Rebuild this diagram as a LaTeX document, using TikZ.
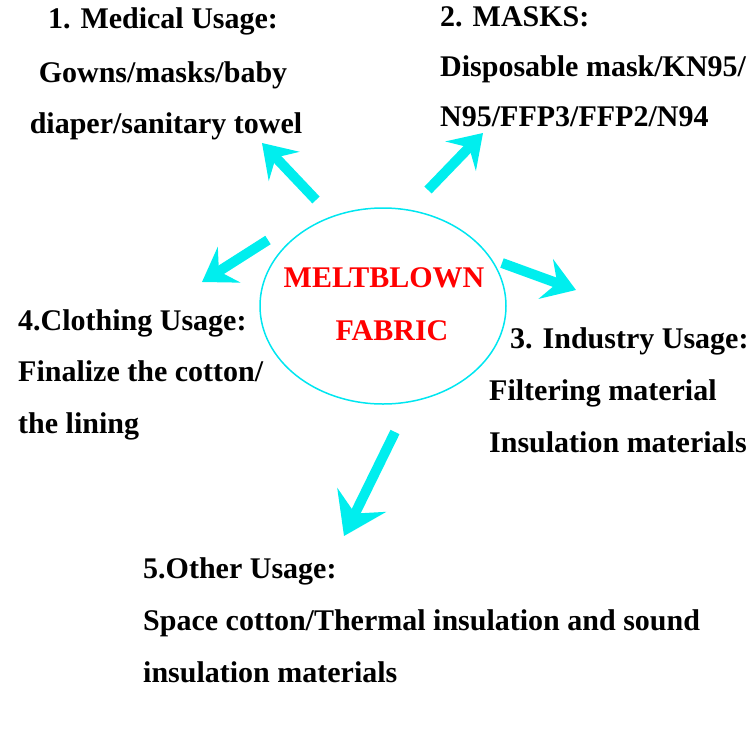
\documentclass[tikz,border=0pt]{standalone}
\usepackage{fontspec}
\setmainfont{Liberation Serif}
\usetikzlibrary{arrows.meta}
\definecolor{arrowcyan}{RGB}{0,238,238}
\definecolor{ringcyan}{RGB}{0,230,240}
\definecolor{titlered}{RGB}{255,0,0}
\begin{document}
\begin{tikzpicture}[x=1pt,y=-1pt,
  lbl/.style={font=\bfseries\fontsize{30}{30}\selectfont, inner sep=0pt, text=black},
  redlbl/.style={lbl, text=titlered},
  bigarrow/.style={draw=arrowcyan, line width=10pt,
    -{Stealth[length=32pt,width=42pt,inset=12pt,fill=arrowcyan]}},
  bighead/.style={draw=arrowcyan, line width=10pt,
    -{Stealth[length=40pt,width=54pt,inset=15pt,fill=arrowcyan]}},
  ring/.style={draw=ringcyan, line width=1.5pt}
]
\useasboundingbox (0,0) rectangle (750,750);

% centre
\draw[ring] (383,306) ellipse [x radius=123, y radius=98];
\node[redlbl, anchor=base] (m1) at (384,287) {MELTBLOWN};
\node[redlbl, anchor=base] (m2) at (392,340) {FABRIC};

% 1
\node[lbl, anchor=base] (t1a) at (163,28) {1. Medical Usage:};
\node[lbl, anchor=base] (t1b) at (163,82) {Gowns/masks/baby};
\node[lbl, anchor=base] (t1c) at (166,133) {diaper/sanitary towel};

% 2
\node[lbl, anchor=base west] (t2a) at (440,26) {2. MASKS:};
\node[lbl, anchor=base west] (t2b) at (440,76) {Disposable mask/KN95/};
\node[lbl, anchor=base west] (t2c) at (440,126) {N95/FFP3/FFP2/N94};

% 3
\node[lbl, anchor=base west] (t3a) at (510,348) {3. Industry Usage:};
\node[lbl, anchor=base west] (t3b) at (489,400) {Filtering material};
\node[lbl, anchor=base west] (t3c) at (489,452) {Insulation materials};

% 4
\node[lbl, anchor=base west] (t4a) at (18,330) {4.Clothing Usage:};
\node[lbl, anchor=base west] (t4b) at (18,381) {Finalize the cotton/};
\node[lbl, anchor=base west] (t4c) at (18,433) {the lining};

% 5
\node[lbl, anchor=base west] (t5a) at (143,578) {5.Other Usage:};
\node[lbl, anchor=base west] (t5b) at (143,630) {Space cotton/Thermal insulation and sound};
\node[lbl, anchor=base west] (t5c) at (143,682) {insulation materials};

% arrow ends
\coordinate (s1) at (316,200); \coordinate (e1) at (262,143);
\coordinate (s2) at (428,190); \coordinate (e2) at (483,133);
\coordinate (s3) at (502,263); \coordinate (e3) at (576,290);
\coordinate (s4) at (268,240); \coordinate (e4) at (202,282);
\coordinate (s5) at (395,432); \coordinate (e5) at (344,536);

\draw[bigarrow] (s1) -- (e1);
\draw[bigarrow] (s2) -- (e2);
\draw[bigarrow] (s3) -- (e3);
\draw[bigarrow] (s4) -- (e4);
\draw[bighead] (s5) -- (e5);
\end{tikzpicture}
\end{document}
